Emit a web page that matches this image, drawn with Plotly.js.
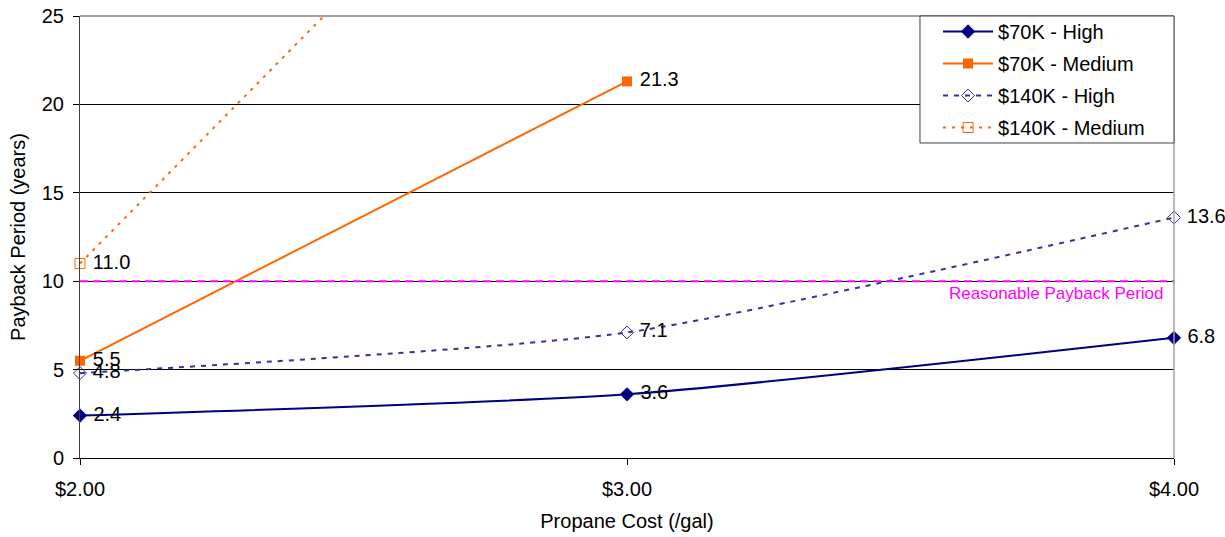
<!DOCTYPE html>
<html>
<head>
<meta charset="utf-8">
<script src="https://cdn.plot.ly/plotly-3.0.1.min.js"></script>
<style>html,body{margin:0;padding:0;background:#fff;}#chart{width:1225px;height:537px;}</style>
</head>
<body>
<div id="chart"></div>
<script>
const propaneCost = [2, 3, 4];
const costLabels = ['$2.00', '$3.00', '$4.00'];
const seriesNames = ['$70K - High', '$70K - Medium', '$140K - High', '$140K - Medium'];
const high70 = [2.4, 3.6, 6.8];
const medium70 = [5.5, 21.3, null];
const high140 = [4.8, 7.1, 13.6];
const medium140 = [11.0, 42.4, null];
const reasonablePayback = 10;
const reasonableLabel = 'Reasonable Payback Period';
const yMax = 25;

const styles = [
  {color: '#000080', dash: 'solid', symbol: 'diamond', msize: 11, mline: 0},
  {color: '#FF6600', dash: 'solid', symbol: 'square', msize: 10, mline: 0},
  {color: '#333399', dash: '5px,6px', symbol: 'diamond-open', msize: 10, mline: 1},
  {color: '#FF6600', dash: '3px,6px', symbol: 'square-open', msize: 10, mline: 1}
];
const seriesData = [high70, medium70, high140, medium140];

const font = 'Liberation Sans, Arial, sans-serif';
const traces = seriesData.map((ys, i) => ({
  x: propaneCost,
  y: ys,
  name: seriesNames[i],
  legendgroup: 'g' + i,
  type: 'scatter',
  mode: 'lines+markers+text',
  line: {color: styles[i].color, width: 2, dash: styles[i].dash, shape: 'spline', smoothing: 0.6},
  marker: {symbol: styles[i].symbol, size: styles[i].msize, color: styles[i].color, line: {color: styles[i].color, width: styles[i].mline}},
  text: ys.map(v => (v === null || v > yMax) ? '' : ' ' + v.toFixed(1)),
  textposition: 'middle right',
  textfont: {family: font, size: 20, color: '#000'},
  cliponaxis: false,
  connectgaps: false,
  hoverinfo: 'x+y+name'
}));

traces.push({
  x: [propaneCost[0], propaneCost[propaneCost.length - 1]],
  y: [reasonablePayback, reasonablePayback],
  type: 'scatter',
  mode: 'lines',
  line: {color: '#FF00FF', width: 2, dash: '8px,5px'},
  showlegend: false,
  hoverinfo: 'skip'
});

const layout = {
  width: 1225,
  height: 537,
  margin: {l: 80, r: 51, t: 16, b: 79},
  paper_bgcolor: '#fff',
  plot_bgcolor: '#fff',
  font: {family: font, size: 20, color: '#000'},
  xaxis: {
    range: [2, 4],
    tickvals: propaneCost,
    ticktext: costLabels,
    showgrid: false,
    zeroline: false,
    showline: true,
    linecolor: '#000',
    linewidth: 1,
    ticks: 'outside',
    ticklen: 6,
    tickcolor: '#000',
    ticklabelstandoff: 7,
    tickfont: {family: font, size: 20},
    title: {text: 'Propane Cost (/gal)', font: {family: font, size: 20}, standoff: 14}
  },
  yaxis: {
    range: [0, yMax],
    dtick: 5,
    showgrid: true,
    gridcolor: '#000',
    gridwidth: 1,
    zeroline: false,
    showline: true,
    linecolor: '#404040',
    ticks: 'outside',
    ticklen: 6,
    tickcolor: '#000',
    ticklabelstandoff: 5,
    tickfont: {family: font, size: 20},
    title: {text: 'Payback Period (years)', font: {family: font, size: 20}, standoff: 10}
  },
  shapes: [
    {type: 'line', xref: 'paper', yref: 'paper', x0: 0, x1: 1, y0: 1, y1: 1, line: {color: '#808080', width: 1.5}},
    {type: 'line', xref: 'paper', yref: 'paper', x0: 1, x1: 1, y0: 0, y1: 1, line: {color: '#A0A0A0', width: 1.5}},
    {type: 'rect', xref: 'paper', yref: 'paper', x0: 0.7678, x1: 1, y0: 0.7127, y1: 1, layer: 'above',
     fillcolor: '#fff', line: {color: '#404040', width: 1}}
  ],
  annotations: [{
    x: 3.786, y: 9.33, xref: 'x', yref: 'y',
    text: reasonableLabel, showarrow: false,
    font: {family: font, size: 17, color: '#FF00FF'}
  }],
  legend: {
    x: 0.7843, y: 1.009, xanchor: 'left', yanchor: 'top',
    bgcolor: 'rgba(0,0,0,0)', borderwidth: 0,
    font: {family: font, size: 20},
    tracegroupgap: 3,
    itemwidth: 50
  },
  showlegend: true
};

Plotly.newPlot('chart', traces, layout, {displayModeBar: false, staticPlot: true});
</script>
</body>
</html>
